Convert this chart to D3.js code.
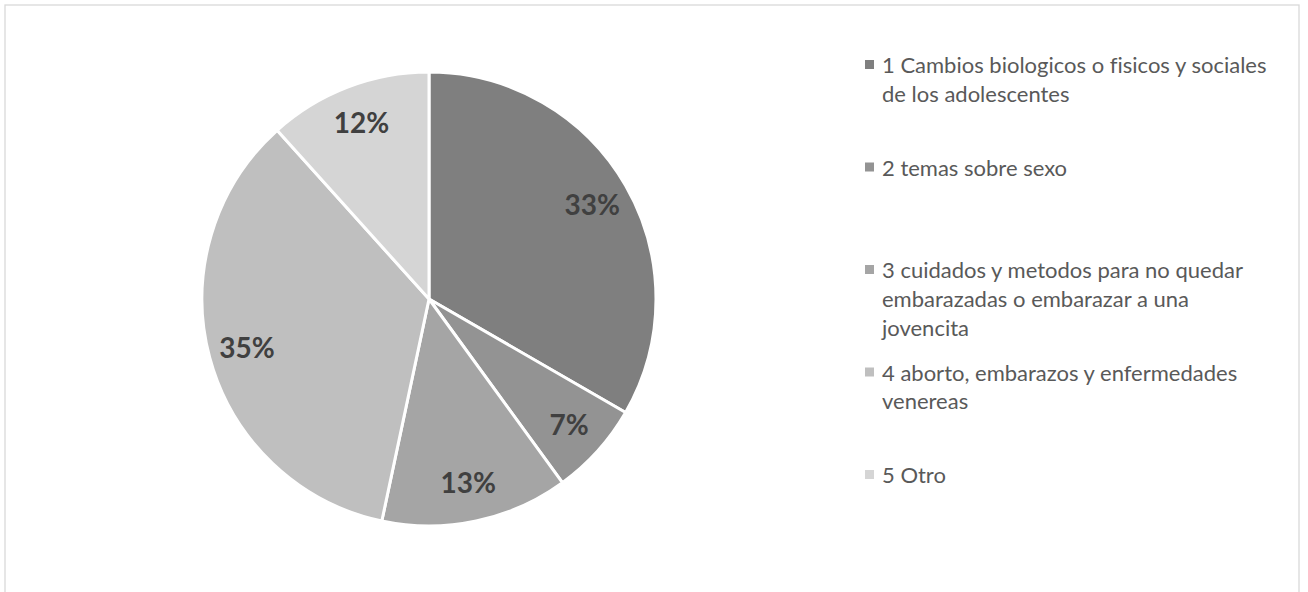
<!DOCTYPE html>
<html>
<head>
<meta charset="utf-8">
<script src="https://cdn.jsdelivr.net/npm/d3@7"></script>
<style>
  body { margin: 0; background: #fff; }
  svg { display: block; }
  text { font-variant-ligatures: none; }
</style>
</head>
<body>
<div id="chart"></div>
<script>
// Data (counts out of 60 -> 33%, 7%, 13%, 35%, 12%)
const categories = [
  "1 Cambios biologicos o fisicos y sociales de los adolescentes",
  "2 temas sobre sexo",
  "3 cuidados y metodos para no quedar embarazadas o embarazar a una jovencita",
  "4 aborto, embarazos y enfermedades venereas",
  "5 Otro"
];
const values = [20, 4, 8, 21, 7];
// legend text as it wraps in the original
const legendLines = [
  ["1 Cambios biologicos o fisicos y sociales", "de los adolescentes"],
  ["2 temas sobre sexo"],
  ["3 cuidados y metodos para no quedar", "embarazadas o embarazar a una", "jovencita"],
  ["4 aborto, embarazos y enfermedades", "venereas"],
  ["5 Otro"]
];
const colors = ["#7f7f7f", "#939393", "#a5a5a5", "#bfbfbf", "#d5d5d5"];

const w = 1308;
const h = 592;
const cx = 429, cy = 299, radius = 227;
const font = "Lato, 'Open Sans', sans-serif";

const data = categories.map((c, i) => ({ cat: c, value: values[i], color: colors[i], lines: legendLines[i] }));
const total = d3.sum(values);

const svg = d3.select("#chart")
  .append("svg")
    .attr("width", w)
    .attr("height", h);

// chart area border
svg.append("rect")
  .attr("x", 5)
  .attr("y", 5)
  .attr("width", 1294)
  .attr("height", 600)
  .attr("fill", "#fff")
  .attr("stroke", "#d9d9d9")
  .attr("stroke-width", 1.3);

const pie = d3.pie().sort(null).value(d => d.value);
const arc = d3.arc().innerRadius(0).outerRadius(radius);
const labelArc = d3.arc().innerRadius(radius * 0.83).outerRadius(radius * 0.83);

const pieG = svg.append("g")
  .attr("transform", `translate(${cx}, ${cy})`);

const arcs = pie(data);

pieG.selectAll("path")
  .data(arcs)
  .enter()
  .append("path")
    .attr("d", arc)
    .attr("fill", d => d.data.color)
    .attr("stroke", "#fff")
    .attr("stroke-width", 3)
    .attr("stroke-linejoin", "round");

// Percent labels
pieG.selectAll(".pct")
  .data(arcs)
  .enter()
  .append("text")
    .attr("class", "pct")
    .attr("transform", d => `translate(${labelArc.centroid(d)})`)
    .attr("text-anchor", "middle")
    .attr("dy", "0.35em")
    .attr("font-family", font)
    .attr("font-weight", "bold")
    .attr("font-size", 28)
    .attr("fill", "#404040")
    .text(d => Math.round(d.data.value / total * 100) + "%");

// Legend - entries evenly spaced by their first line
const legendY = d3.scaleLinear().domain([0, data.length - 1]).range([73, 483]);
const lineH = 28.8;

const legend = svg.append("g")
  .selectAll("g")
  .data(data)
  .enter()
  .append("g")
    .attr("transform", (d, i) => `translate(0, ${legendY(i)})`);

legend.append("rect")
  .attr("x", 865)
  .attr("y", -13)
  .attr("width", 9)
  .attr("height", 9)
  .attr("fill", d => d.color);

legend.append("text")
  .attr("font-family", font)
  .attr("font-size", 22)
  .attr("fill", "#595959")
  .selectAll("tspan")
  .data(d => d.lines)
  .enter()
  .append("tspan")
    .attr("x", 882)
    .attr("y", (d, j) => j * lineH)
    .text(d => d);
</script>
</body>
</html>
